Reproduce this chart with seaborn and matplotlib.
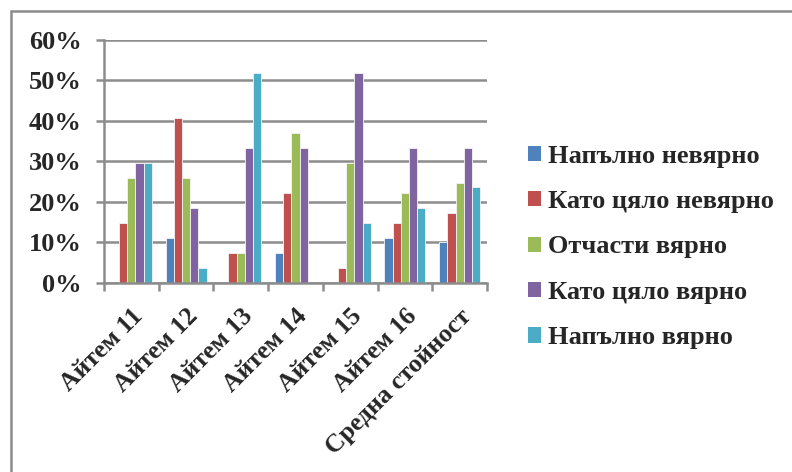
import matplotlib
matplotlib.use("Agg")
import matplotlib.pyplot as plt
import seaborn as sns
import pandas as pd
from matplotlib.patches import Rectangle, Patch

# Response shares (%) per item for each answer option
items = ["Айтем 11", "Айтем 12", "Айтем 13", "Айтем 14", "Айтем 15", "Айтем 16", "Средна стойност"]
options = ["Напълно невярно", "Като цяло невярно", "Отчасти вярно", "Като цяло вярно", "Напълно вярно"]
fully_false = [0.0, 11.1, 0.0, 7.4, 0.0, 11.1, 9.9]
mostly_false = [14.8, 40.7, 7.4, 22.2, 3.7, 14.8, 17.3]
partly_true = [25.9, 25.9, 7.4, 37.0, 29.6, 22.2, 24.6]
mostly_true = [29.6, 18.5, 33.3, 33.3, 51.9, 33.3, 33.3]
fully_true = [29.6, 3.7, 51.9, 0.0, 14.8, 18.5, 23.6]
y_ticks = [0, 10, 20, 30, 40, 50, 60]

colors = ["#4F81BD", "#C0504D", "#9BBB59", "#8064A2", "#4BACC6"]

series = [fully_false, mostly_false, partly_true, mostly_true, fully_true]
df = pd.DataFrame(
    [(item, opt, vals[i]) for opt, vals in zip(options, series) for i, item in enumerate(items)],
    columns=["item", "option", "value"],
)

sns.set_theme(style="white")
plt.rcParams["font.family"] = ["Liberation Serif", "DejaVu Serif"]
plt.rcParams["font.weight"] = "bold"

fig = plt.figure(figsize=(7.92, 4.72), dpi=100)
ax = fig.add_axes([104 / 792, 1 - 282.5 / 472, (487 - 104) / 792, (282.5 - 40) / 472])

sns.barplot(
    data=df, x="item", y="value", hue="option", hue_order=options, order=items,
    palette=colors, width=0.75, saturation=1, edgecolor="#f4f4f4", linewidth=0.6,
    ax=ax, legend=False,
)

grid_c = "#8c8c8c"
ax.set_ylim(0, 60)
ax.set_xlim(-0.5, len(items) - 0.5)
ax.set_yticks(y_ticks)
ax.set_yticklabels([f"{t}%" for t in y_ticks], fontsize=19, fontweight="bold")
ax.yaxis.grid(True, color=grid_c, linewidth=1.8)
ax.set_axisbelow(True)

# category boundaries carry the tick marks; labels sit at category centres
ax.set_xticks([i - 0.5 for i in range(len(items) + 1)])
ax.set_xticklabels([])
ax.set_xticks(range(len(items)), minor=True)
ax.set_xticklabels(items, minor=True, rotation=45, ha="right", rotation_mode="anchor",
                   fontsize=18.5, fontweight="bold")
ax.tick_params(axis="x", which="major", length=6, width=1.8, color=grid_c, bottom=True)
ax.tick_params(axis="x", which="minor", length=0, pad=16)
ax.tick_params(axis="y", length=6, width=1.8, color=grid_c, left=True, pad=10)
ax.set_xlabel("")
ax.set_ylabel("")

for side in ["top", "right"]:
    ax.spines[side].set_visible(False)
for side in ["left", "bottom"]:
    ax.spines[side].set_color(grid_c)
    ax.spines[side].set_linewidth(1.8)

handles = [Patch(facecolor=c, edgecolor="none") for c in colors]
fig.legend(
    handles, options, loc="center left", bbox_to_anchor=(528 / 792, 1 - 247 / 472),
    frameon=False, prop={"family": "Liberation Serif", "weight": "bold", "size": 19},
    handlelength=0.5, handleheight=0.5, handletextpad=0.25, labelspacing=0.85,
    borderaxespad=0, borderpad=0,
)

# chart frame
fig.patches.append(Rectangle((11 / 792, -0.1), 1.2, 1 - 11 / 472 + 0.1, transform=fig.transFigure,
                             fill=False, edgecolor="#8c8c8c", linewidth=1.8))

fig.savefig("out.png", dpi=100)
